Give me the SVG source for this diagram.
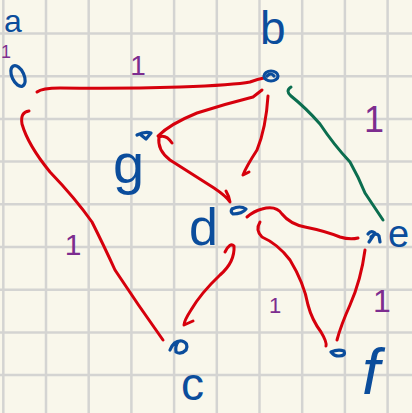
<svg xmlns="http://www.w3.org/2000/svg" width="412" height="413" viewBox="0 0 412 413">
<style>
.grid line{stroke:#d4d4d2;stroke-width:2.5}
.e{fill:none;stroke:#d6000c;stroke-width:3;stroke-linecap:round;stroke-linejoin:round}
.eg{fill:none;stroke:#0b6e4f;stroke-width:3;stroke-linecap:round;stroke-linejoin:round}
.m{fill:none;stroke:#0b4d9c;stroke-width:3.2;stroke-linecap:round;stroke-linejoin:round}
.lbl{fill:#0b4d9c;font-family:"Liberation Sans",Arial,sans-serif}
.w{fill:#7d2d8f;font-family:"Liberation Sans",Arial,sans-serif;text-anchor:middle}
</style>
<rect width="412" height="413" fill="#f9f7eb"/>
<g class="grid">
<line x1="3.3" y1="0" x2="3.3" y2="413"/>
<line x1="46" y1="0" x2="46" y2="413"/>
<line x1="88.7" y1="0" x2="88.7" y2="413"/>
<line x1="131.4" y1="0" x2="131.4" y2="413"/>
<line x1="174.1" y1="0" x2="174.1" y2="413"/>
<line x1="216.8" y1="0" x2="216.8" y2="413"/>
<line x1="259.5" y1="0" x2="259.5" y2="413"/>
<line x1="302.2" y1="0" x2="302.2" y2="413"/>
<line x1="344.9" y1="0" x2="344.9" y2="413"/>
<line x1="387.6" y1="0" x2="387.6" y2="413"/>
<line x1="0" y1="33.5" x2="412" y2="33.5"/>
<line x1="0" y1="76.2" x2="412" y2="76.2"/>
<line x1="0" y1="118.9" x2="412" y2="118.9"/>
<line x1="0" y1="161.6" x2="412" y2="161.6"/>
<line x1="0" y1="204.3" x2="412" y2="204.3"/>
<line x1="0" y1="247" x2="412" y2="247"/>
<line x1="0" y1="289.7" x2="412" y2="289.7"/>
<line x1="0" y1="332.4" x2="412" y2="332.4"/>
<line x1="0" y1="375.1" x2="412" y2="375.1"/>
</g>
<g id="connectors">
<path class="e" d="M37,92 Q42,88 60,88 Q120,89 180,87 Q235,85 250,82 Q258,79 264,78"/>
<path class="e" d="M29,111 Q20,112 22,124 Q28,145 50,172 Q75,198 92,222 Q105,248 115,270 Q138,305 163,340"/>
<path class="e" d="M262,90 L253,97 Q225,104 197,113 Q170,124 158,136"/>
<path class="e" d="M172,143 Q166,134 159,137 Q157,150 170,160 Q195,176 214,188 Q226,196 230,202 Q229,196 226,191"/>
<path class="e" d="M268,96 Q266,128 257,150 Q246,167 243,175 L249,172"/>
<path class="e" d="M247,217 Q254,211 262,209 Q276,205 282,214 Q290,224 305,227 Q325,231 340,237 Q350,240 358,238"/>
<path class="e" d="M260,222 Q255,230 262,237 Q278,244 290,260 Q304,283 308,305 Q312,320 321,332 Q327,342 326,346"/>
<path class="e" d="M365,250 Q361,280 350,305 Q341,325 337,340"/>
<path class="e" d="M225,252 Q230,242 234,246 Q235,262 220,275 Q201,293 191,310 Q184,321 184,325 L193,321"/>
<path class="eg" d="M291,87 Q285,91 291,96 Q306,108 320,124 Q334,145 350,162 Q359,178 365,193 Q375,208 383,220"/>
</g>
<g id="node-a">
<text class="lbl" x="4" y="32" font-size="32">a</text>
<ellipse class="m" cx="18" cy="76" rx="6" ry="11" transform="rotate(-25 18 76)"/>
<text class="w" x="6" y="58" font-size="18">1</text>
</g>
<g id="node-b">
<text class="lbl" x="260" y="44" font-size="46">b</text>
<ellipse class="m" cx="271" cy="76" rx="7" ry="5"/>
<path class="m" d="M267,76 Q271,72 274,76"/>
</g>
<g id="node-g">
<text class="lbl" x="113" y="183" font-size="56">g</text>
<path class="m" d="M137,135 Q145,131 151,133 L146,139 L141,135"/>
</g>
<g id="node-d">
<text class="lbl" x="189" y="245" font-size="52">d</text>
<path class="m" d="M232,209 Q240,205 246,209 Q242,214 233,214 Q230,212 232,209"/>
</g>
<g id="node-e">
<text class="lbl" x="388" y="247" font-size="38">e</text>
<path class="m" d="M368,234 Q371,230 375,233 L369,242 M371,237 Q376,232 379,236 L380,242"/>
</g>
<g id="node-c">
<text class="lbl" x="181" y="400" font-size="46">c</text>
<path class="m" d="M170,350 Q174,340 182,341 Q189,343 186,350 Q181,355 176,352 Q175,346 178,342"/>
</g>
<g id="node-f">
<text class="lbl" x="362" y="394" font-size="64" font-style="italic">f</text>
<path class="m" d="M331,352 Q338,349 344,351 Q346,356 339,356 Q334,356 332,353"/>
</g>
<g id="weights">
<text class="w" x="138" y="75" font-size="28">1</text>
<text class="w" x="374" y="132" font-size="36">1</text>
<text class="w" x="73" y="255" font-size="30">1</text>
<text class="w" x="275" y="313" font-size="22">1</text>
<text class="w" x="382" y="312" font-size="32">1</text>
</g>
</svg>
